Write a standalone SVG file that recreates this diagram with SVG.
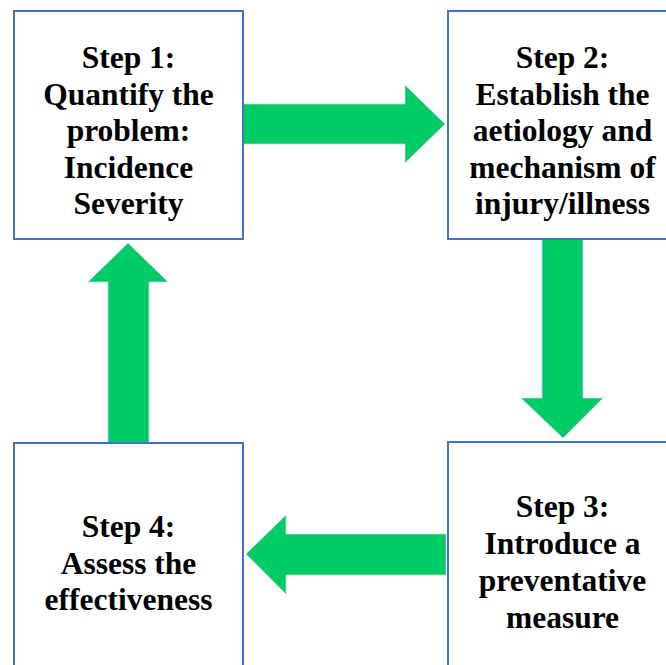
<svg xmlns="http://www.w3.org/2000/svg" width="666" height="665" viewBox="0 0 666 665">
<style>
.box{fill:#ffffff;stroke:#4472C4;stroke-width:2}
.arrow{fill:#00CC66;stroke:#c8d0ea;stroke-width:0.8;stroke-linejoin:miter}
.t{font-family:'Liberation Serif','Tinos','Times New Roman','Times','Noto Serif','DejaVu Serif','FreeSerif',serif;font-weight:bold;font-size:31.5px;fill:#000000;text-anchor:middle}
</style>
<rect x="0" y="0" width="666" height="665" fill="#ffffff"/>
<g id="connectors">
<polygon class="arrow" points="243,104 405,104 405,85 445,124 405,163 405,144 243,144"/>
<polygon class="arrow" points="542,239 583,239 583,398 603,398 563,438 521,398 542,398"/>
<polygon class="arrow" points="446,534 286,534 286,515 246,554 286,594 286,575 446,575"/>
<polygon class="arrow" points="108,443 108,282 88,282 128,243 168,282 149,282 149,443"/>
</g>
<g id="step1">
<rect class="box" x="14" y="11" width="229" height="228"/>
<text class="t" x="128.5" y="68">Step 1:</text>
<text class="t" x="128.5" y="104.5">Quantify the</text>
<text class="t" x="128.5" y="141">problem:</text>
<text class="t" x="128.5" y="177.5">Incidence</text>
<text class="t" x="128.5" y="214">Severity</text>
</g>
<g id="step2">
<rect class="box" x="448" y="11" width="229" height="228"/>
<text class="t" x="562.5" y="68">Step 2:</text>
<text class="t" x="562.5" y="104.5">Establish the</text>
<text class="t" x="562.5" y="141">aetiology and</text>
<text class="t" x="562.5" y="177.5">mechanism of</text>
<text class="t" x="562.5" y="214">injury/illness</text>
</g>
<g id="step3">
<rect class="box" x="448" y="442" width="229" height="240"/>
<text class="t" x="562.5" y="517">Step 3:</text>
<text class="t" x="562.5" y="554">Introduce a</text>
<text class="t" x="562.5" y="591">preventative</text>
<text class="t" x="562.5" y="628">measure</text>
</g>
<g id="step4">
<rect class="box" x="14" y="443" width="229" height="240"/>
<text class="t" x="128.5" y="537">Step 4:</text>
<text class="t" x="128.5" y="573.5">Assess the</text>
<text class="t" x="128.5" y="610">effectiveness</text>
</g>
</svg>
